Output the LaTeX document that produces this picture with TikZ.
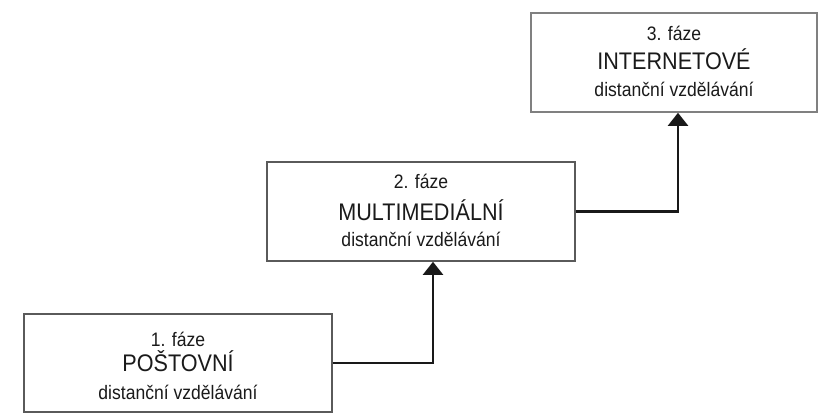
\documentclass[tikz,border=0pt]{standalone}
\usepackage{fontspec}
\setmainfont{Liberation Sans}[FakeStretch=0.9]
\usetikzlibrary{arrows.meta}
\definecolor{boxgray}{HTML}{5A5A5A}
\definecolor{boxgraylight}{HTML}{808080}
\definecolor{txt}{HTML}{1A1A1A}
\tikzset{
  stagebox/.style={draw=boxgray, line width=1.6pt, fill=white, inner sep=0pt},
  small/.style={anchor=base, text=txt, font=\fontsize{19.5}{20}\selectfont, inner sep=0pt},
  big/.style={anchor=base, text=txt, font=\fontsize{24}{24}\selectfont, inner sep=0pt},
  conn/.style={draw=black!90, line width=2.2pt, -{Triangle[width=20pt,length=13pt]}}
}
\begin{document}
\begin{tikzpicture}[x=1pt,y=-1pt]
\useasboundingbox (0,0) rectangle (819,414);
\fill[white] (0,0) rectangle (819,414);
% boxes
\node[stagebox, minimum width=308pt, minimum height=98pt] (b1) at (178,363) {};
\node[stagebox, minimum width=308pt, minimum height=99pt] (b2) at (421,211.5) {};
\node[stagebox, draw=boxgraylight, minimum width=286pt, minimum height=99pt] (b3) at (674,62.5) {};
% texts
\node[small] (t1a) at (178,346) {1. fáze};
\node[big]   (t1b) at (178,371) {POŠTOVNÍ};
\node[small] (t1c) at (178,399) {distanční vzdělávání};
\node[small] (t2a) at (421,189) {2. fáze};
\node[big]   (t2b) at (421,221) {MULTIMEDIÁLNÍ};
\node[small] (t2c) at (421,247) {distanční vzdělávání};
\node[small] (t3a) at (674,41) {3. fáze};
\node[big]   (t3b) at (674,70) {INTERNETOVÉ};
\node[small] (t3c) at (674,97) {distanční vzdělávání};
% connectors
\draw[conn] (b1.east) -| ([xshift=12pt]b2.south);
\draw[conn] (b2.east) -| ([xshift=4pt]b3.south);
\end{tikzpicture}
\end{document}
